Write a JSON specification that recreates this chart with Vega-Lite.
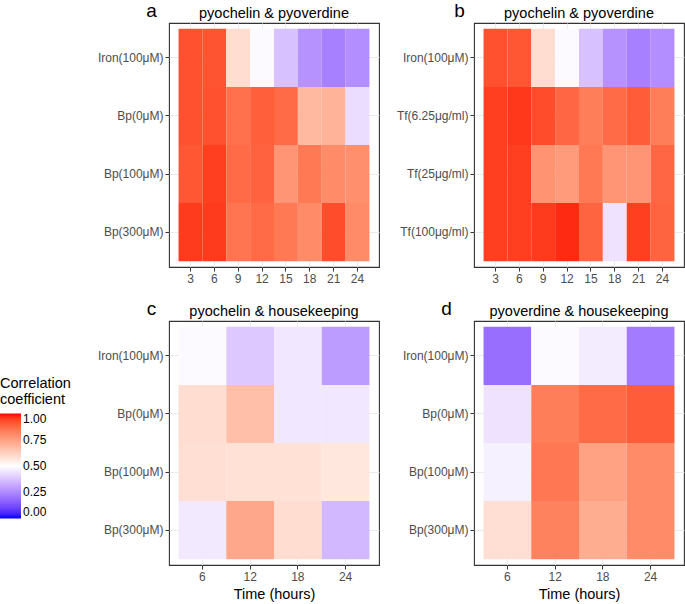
{
  "$schema": "https://vega.github.io/schema/vega-lite/v6.json",
  "background": "white",
  "padding": 0,
  "datasets": {
    "a": [
      {"cond": "Iron(100μM)", "time": 3, "r": 0.92}, {"cond": "Iron(100μM)", "time": 6, "r": 0.915}, {"cond": "Iron(100μM)", "time": 9, "r": 0.59}, {"cond": "Iron(100μM)", "time": 12, "r": 0.49},
      {"cond": "Iron(100μM)", "time": 15, "r": 0.37}, {"cond": "Iron(100μM)", "time": 18, "r": 0.27}, {"cond": "Iron(100μM)", "time": 21, "r": 0.23}, {"cond": "Iron(100μM)", "time": 24, "r": 0.26},
      {"cond": "Bp(0μM)", "time": 3, "r": 0.92}, {"cond": "Bp(0μM)", "time": 6, "r": 0.92}, {"cond": "Bp(0μM)", "time": 9, "r": 0.86}, {"cond": "Bp(0μM)", "time": 12, "r": 0.895},
      {"cond": "Bp(0μM)", "time": 15, "r": 0.87}, {"cond": "Bp(0μM)", "time": 18, "r": 0.685}, {"cond": "Bp(0μM)", "time": 21, "r": 0.7}, {"cond": "Bp(0μM)", "time": 24, "r": 0.43},
      {"cond": "Bp(100μM)", "time": 3, "r": 0.91}, {"cond": "Bp(100μM)", "time": 6, "r": 0.95}, {"cond": "Bp(100μM)", "time": 9, "r": 0.87}, {"cond": "Bp(100μM)", "time": 12, "r": 0.89},
      {"cond": "Bp(100μM)", "time": 15, "r": 0.775}, {"cond": "Bp(100μM)", "time": 18, "r": 0.84}, {"cond": "Bp(100μM)", "time": 21, "r": 0.8}, {"cond": "Bp(100μM)", "time": 24, "r": 0.79},
      {"cond": "Bp(300μM)", "time": 3, "r": 0.955}, {"cond": "Bp(300μM)", "time": 6, "r": 0.955}, {"cond": "Bp(300μM)", "time": 9, "r": 0.85}, {"cond": "Bp(300μM)", "time": 12, "r": 0.87},
      {"cond": "Bp(300μM)", "time": 15, "r": 0.84}, {"cond": "Bp(300μM)", "time": 18, "r": 0.8}, {"cond": "Bp(300μM)", "time": 21, "r": 0.93}, {"cond": "Bp(300μM)", "time": 24, "r": 0.8}
    ],
    "b": [
      {"cond": "Iron(100μM)", "time": 3, "r": 0.92}, {"cond": "Iron(100μM)", "time": 6, "r": 0.91}, {"cond": "Iron(100μM)", "time": 9, "r": 0.59}, {"cond": "Iron(100μM)", "time": 12, "r": 0.49},
      {"cond": "Iron(100μM)", "time": 15, "r": 0.37}, {"cond": "Iron(100μM)", "time": 18, "r": 0.27}, {"cond": "Iron(100μM)", "time": 21, "r": 0.23}, {"cond": "Iron(100μM)", "time": 24, "r": 0.26},
      {"cond": "Tf(6.25μg/ml)", "time": 3, "r": 0.95}, {"cond": "Tf(6.25μg/ml)", "time": 6, "r": 0.96}, {"cond": "Tf(6.25μg/ml)", "time": 9, "r": 0.93}, {"cond": "Tf(6.25μg/ml)", "time": 12, "r": 0.88},
      {"cond": "Tf(6.25μg/ml)", "time": 15, "r": 0.83}, {"cond": "Tf(6.25μg/ml)", "time": 18, "r": 0.87}, {"cond": "Tf(6.25μg/ml)", "time": 21, "r": 0.9}, {"cond": "Tf(6.25μg/ml)", "time": 24, "r": 0.83},
      {"cond": "Tf(25μg/ml)", "time": 3, "r": 0.95}, {"cond": "Tf(25μg/ml)", "time": 6, "r": 0.95}, {"cond": "Tf(25μg/ml)", "time": 9, "r": 0.78}, {"cond": "Tf(25μg/ml)", "time": 12, "r": 0.76},
      {"cond": "Tf(25μg/ml)", "time": 15, "r": 0.84}, {"cond": "Tf(25μg/ml)", "time": 18, "r": 0.775}, {"cond": "Tf(25μg/ml)", "time": 21, "r": 0.775}, {"cond": "Tf(25μg/ml)", "time": 24, "r": 0.88},
      {"cond": "Tf(100μg/ml)", "time": 3, "r": 0.95}, {"cond": "Tf(100μg/ml)", "time": 6, "r": 0.95}, {"cond": "Tf(100μg/ml)", "time": 9, "r": 0.955}, {"cond": "Tf(100μg/ml)", "time": 12, "r": 0.975},
      {"cond": "Tf(100μg/ml)", "time": 15, "r": 0.885}, {"cond": "Tf(100μg/ml)", "time": 18, "r": 0.44}, {"cond": "Tf(100μg/ml)", "time": 21, "r": 0.95}, {"cond": "Tf(100μg/ml)", "time": 24, "r": 0.885}
    ],
    "c": [
      {"cond": "Iron(100μM)", "time": 6, "r": 0.49}, {"cond": "Iron(100μM)", "time": 12, "r": 0.385}, {"cond": "Iron(100μM)", "time": 18, "r": 0.45}, {"cond": "Iron(100μM)", "time": 24, "r": 0.29},
      {"cond": "Bp(0μM)", "time": 6, "r": 0.59}, {"cond": "Bp(0μM)", "time": 12, "r": 0.67}, {"cond": "Bp(0μM)", "time": 18, "r": 0.45}, {"cond": "Bp(0μM)", "time": 24, "r": 0.45},
      {"cond": "Bp(100μM)", "time": 6, "r": 0.585}, {"cond": "Bp(100μM)", "time": 12, "r": 0.58}, {"cond": "Bp(100μM)", "time": 18, "r": 0.58}, {"cond": "Bp(100μM)", "time": 24, "r": 0.565},
      {"cond": "Bp(300μM)", "time": 6, "r": 0.455}, {"cond": "Bp(300μM)", "time": 12, "r": 0.73}, {"cond": "Bp(300μM)", "time": 18, "r": 0.59}, {"cond": "Bp(300μM)", "time": 24, "r": 0.35}
    ],
    "d": [
      {"cond": "Iron(100μM)", "time": 6, "r": 0.19}, {"cond": "Iron(100μM)", "time": 12, "r": 0.49}, {"cond": "Iron(100μM)", "time": 18, "r": 0.46}, {"cond": "Iron(100μM)", "time": 24, "r": 0.22},
      {"cond": "Bp(0μM)", "time": 6, "r": 0.44}, {"cond": "Bp(0μM)", "time": 12, "r": 0.83}, {"cond": "Bp(0μM)", "time": 18, "r": 0.87}, {"cond": "Bp(0μM)", "time": 24, "r": 0.9},
      {"cond": "Bp(100μM)", "time": 6, "r": 0.47}, {"cond": "Bp(100μM)", "time": 12, "r": 0.845}, {"cond": "Bp(100μM)", "time": 18, "r": 0.745}, {"cond": "Bp(100μM)", "time": 24, "r": 0.8},
      {"cond": "Bp(300μM)", "time": 6, "r": 0.585}, {"cond": "Bp(300μM)", "time": 12, "r": 0.82}, {"cond": "Bp(300μM)", "time": 18, "r": 0.715}, {"cond": "Bp(300μM)", "time": 24, "r": 0.8}
    ]
  },
  "spacing": 12,
  "vconcat": [
    {
      "spacing": 9,
      "hconcat": [
        {
          "data": {"name": "a"},
          "width": 210, "height": 244,
          "title": {"text": "pyochelin & pyoverdine"},
          "mark": {"type": "rect", "strokeWidth": 0},
          "encoding": {
            "x": {"field": "time", "type": "ordinal", "scale": {"paddingInner": 0, "paddingOuter": 0.4}, "axis": {"title": null}},
            "y": {"field": "cond", "type": "nominal", "sort": ["Iron(100μM)", "Bp(0μM)", "Bp(100μM)", "Bp(300μM)"], "scale": {"paddingInner": 0, "paddingOuter": 0.1}, "axis": {"title": "a", "titleX": -18, "titleY": -7}},
            "color": {"field": "r", "type": "quantitative", "scale": {"domain": [0, 0.5, 1], "range": ["#0000ff", "#ffffff", "#ff0000"], "interpolate": "lab"},
              "legend": {"title": ["Correlation", "coefficient"], "values": [0, 0.25, 0.5, 0.75, 1], "format": ".2f", "orient": "none", "legendX": -169, "legendY": 354}}
          }
        },
        {
          "data": {"name": "b"},
          "width": 210, "height": 244,
          "title": {"text": "pyochelin & pyoverdine"},
          "mark": {"type": "rect", "strokeWidth": 0},
          "encoding": {
            "x": {"field": "time", "type": "ordinal", "scale": {"paddingInner": 0, "paddingOuter": 0.4}, "axis": {"title": null}},
            "y": {"field": "cond", "type": "nominal", "sort": ["Iron(100μM)", "Tf(6.25μg/ml)", "Tf(25μg/ml)", "Tf(100μg/ml)"], "scale": {"paddingInner": 0, "paddingOuter": 0.1}, "axis": {"title": "b", "titleX": -15, "titleY": -7}},
            "color": {"field": "r", "type": "quantitative", "scale": {"domain": [0, 0.5, 1], "range": ["#0000ff", "#ffffff", "#ff0000"], "interpolate": "lab"},
              "legend": {"title": ["Correlation", "coefficient"], "values": [0, 0.25, 0.5, 0.75, 1], "format": ".2f", "orient": "none", "legendX": -169, "legendY": 354}}
          }
        }
      ]
    },
    {
      "spacing": 9,
      "hconcat": [
        {
          "data": {"name": "c"},
          "width": 210, "height": 244,
          "title": {"text": "pyochelin & housekeeping"},
          "mark": {"type": "rect", "strokeWidth": 0},
          "encoding": {
            "x": {"field": "time", "type": "ordinal", "scale": {"paddingInner": 0, "paddingOuter": 0.2}, "axis": {"title": "Time (hours)"}},
            "y": {"field": "cond", "type": "nominal", "sort": ["Iron(100μM)", "Bp(0μM)", "Bp(100μM)", "Bp(300μM)"], "scale": {"paddingInner": 0, "paddingOuter": 0.1}, "axis": {"title": "c", "titleX": -18, "titleY": -7}},
            "color": {"field": "r", "type": "quantitative", "scale": {"domain": [0, 0.5, 1], "range": ["#0000ff", "#ffffff", "#ff0000"], "interpolate": "lab"},
              "legend": {"title": ["Correlation", "coefficient"], "values": [0, 0.25, 0.5, 0.75, 1], "format": ".2f", "orient": "none", "legendX": -169, "legendY": 354}}
          }
        },
        {
          "data": {"name": "d"},
          "width": 210, "height": 244,
          "title": {"text": "pyoverdine & housekeeping"},
          "mark": {"type": "rect", "strokeWidth": 0},
          "encoding": {
            "x": {"field": "time", "type": "ordinal", "scale": {"paddingInner": 0, "paddingOuter": 0.2}, "axis": {"title": "Time (hours)"}},
            "y": {"field": "cond", "type": "nominal", "sort": ["Iron(100μM)", "Bp(0μM)", "Bp(100μM)", "Bp(300μM)"], "scale": {"paddingInner": 0, "paddingOuter": 0.1}, "axis": {"title": "d", "titleX": -28, "titleY": -7}},
            "color": {"field": "r", "type": "quantitative", "scale": {"domain": [0, 0.5, 1], "range": ["#0000ff", "#ffffff", "#ff0000"], "interpolate": "lab"},
              "legend": {"title": ["Correlation", "coefficient"], "values": [0, 0.25, 0.5, 0.75, 1], "format": ".2f", "orient": "none", "legendX": -169, "legendY": 354}}
          }
        }
      ]
    }
  ],
  "resolve": {"scale": {"color": "shared"}, "legend": {"color": "shared"}},
  "config": {
    "font": "Liberation Sans",
    "view": {"stroke": "#333333", "strokeWidth": 1.1},
    "title": {"fontSize": 14.5, "fontWeight": "normal", "color": "#000000", "anchor": "middle", "frame": "group", "offset": 0, "dy": 24},
    "axis": {
      "domain": false, "grid": true, "gridColor": "#ebebeb", "gridWidth": 1, "bandPosition": 0.5, "zindex": 0,
      "tickColor": "#333333", "tickSize": 4, "labelPadding": 2, "labelColor": "#4d4d4d", "labelFontSize": 12,
      "titleFontSize": 14.5, "titleFontWeight": "normal", "titleColor": "#000000"
    },
    "axisX": {"labelAngle": 0, "minExtent": 18, "maxExtent": 18, "titlePadding": 4},
    "axisY": {"minExtent": 84, "maxExtent": 84, "titleAngle": 0, "titleFontSize": 19, "titleAlign": "center", "titleBaseline": "alphabetic"},
    "legend": {
      "direction": "vertical",
      "titleFontSize": 14.5, "titleFontWeight": "normal", "titleColor": "#000000", "titleLineHeight": 16, "titlePadding": 6,
      "gradientLength": 105, "gradientThickness": 21, "gradientStrokeWidth": 0,
      "labelFontSize": 12, "labelColor": "#000000", "labelOffset": 6
    }
  }
}
